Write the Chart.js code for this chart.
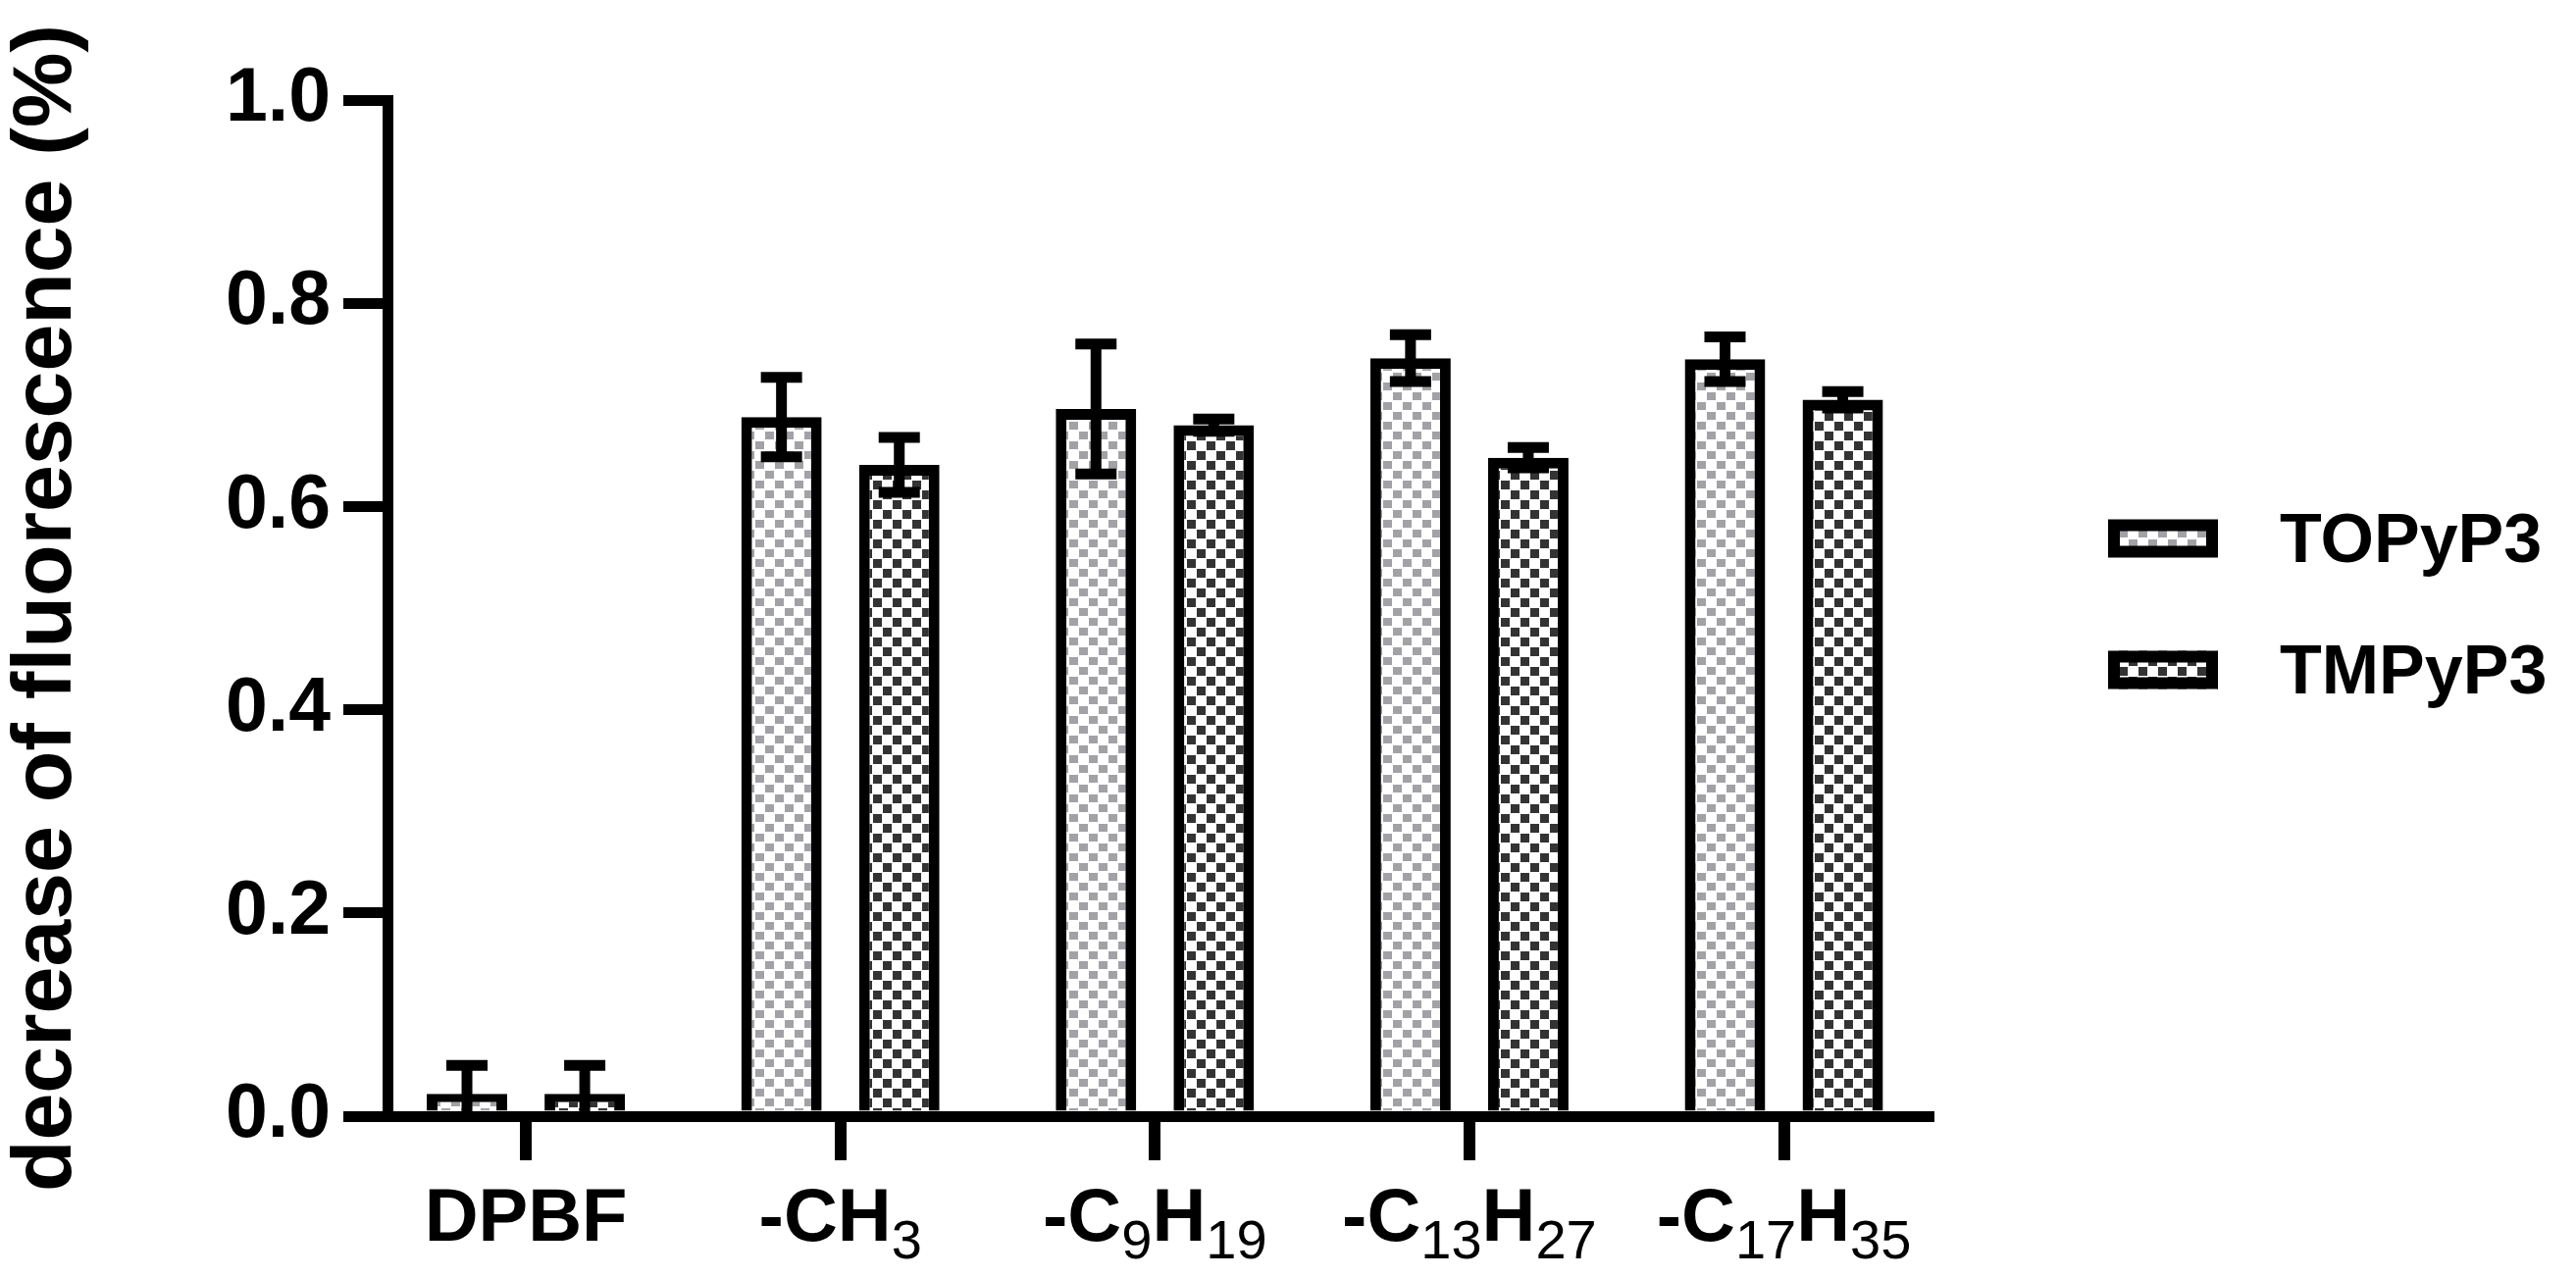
<!DOCTYPE html>
<html>
<head>
<meta charset="utf-8">
<script src="https://cdn.jsdelivr.net/npm/chart.js@4.4.1/dist/chart.umd.min.js"></script>
<style>
  html, body { margin: 0; padding: 0; background: #fff; }
</style>
</head>
<body>
<canvas id="chart" width="2626" height="1302"></canvas>
<script>
/* globals Chart */
const categories = ['DPBF', '-CH3', '-C9H19', '-C13H27', '-C17H35'];
const seriesNames = ['TOPyP3', 'TMPyP3'];
const topypMean = [0.022, 0.688, 0.696, 0.746, 0.745];
const topypSd = [0.028, 0.039, 0.064, 0.023, 0.022];
const tmpypMean = [0.022, 0.641, 0.680, 0.648, 0.705];
const tmpypSd = [0.028, 0.027, 0.006, 0.010, 0.008];
const yTicks = [0, 0.2, 0.4, 0.6, 0.8, 1.0];

const FONT = '"Liberation Sans", Arial, sans-serif';
const el = (id) => document.getElementById(id);

// checker tile like the GraphPad fills
function checker(color, sq, sqH) {
  const t = document.createElement('canvas');
  t.width = 20; t.height = 20;
  const c = t.getContext('2d');
  c.fillStyle = '#fff';
  c.fillRect(0, 0, 20, 20);
  c.fillStyle = color;
  c.fillRect(0, 0, sq, sqH);
  c.fillRect(10, 10, sq, sqH);
  return el('chart').getContext('2d').createPattern(t, 'repeat');
}

const lightFill = checker('#a2a2a6', 9, 8);
const darkFill = checker('#333333', 9, 9);

// error bars (mean ± sd), drawn over the bars
const errorBars = {
  id: 'errorBars',
  afterDatasetsDraw(chart) {
    const { ctx, chartArea, scales: { y } } = chart;
    ctx.save();
    ctx.beginPath();
    ctx.rect(chartArea.left, chartArea.top - 30, chartArea.width, chartArea.height + 30);
    ctx.clip();
    ctx.strokeStyle = '#000';
    ctx.lineWidth = 11;
    chart.data.datasets.forEach((ds, di) => {
      chart.getDatasetMeta(di).data.forEach((bar, i) => {
        const m = ds.data[i].y, s = ds.sd[i];
        const yt = y.getPixelForValue(m + s);
        const yb = y.getPixelForValue(m - s);
        ctx.beginPath();
        ctx.moveTo(bar.x, yt); ctx.lineTo(bar.x, yb);
        ctx.moveTo(bar.x - 21, yt); ctx.lineTo(bar.x + 21, yt);
        ctx.moveTo(bar.x - 21, yb); ctx.lineTo(bar.x + 21, yb);
        ctx.stroke();
      });
    });
    ctx.restore();
  }
};

// category labels with subscript digits
const formulaLabels = {
  id: 'formulaLabels',
  afterDraw(chart) {
    const { ctx, chartArea, scales: { x } } = chart;
    const base = chartArea.bottom + 127;
    const fontFor = (p) => p.sub ? `56px ${FONT}` : `bold 76px ${FONT}`;
    ctx.save();
    ctx.fillStyle = '#000';
    ctx.textAlign = 'left';
    ctx.textBaseline = 'alphabetic';
    categories.forEach((lab, i) => {
      const parts = lab.match(/[^0-9]+|[0-9]+/g).map(t => ({ t, sub: /^[0-9]/.test(t) }));
      let w = 0;
      parts.forEach(p => { ctx.font = fontFor(p); p.w = ctx.measureText(p.t).width; w += p.w; });
      let cx = x.getPixelForValue(i) - w / 2;
      parts.forEach(p => {
        ctx.font = fontFor(p);
        ctx.fillText(p.t, cx, base + (p.sub ? 18 : 0));
        cx += p.w;
      });
    });
    ctx.restore();
  }
};

// legend on the right, boxes with pattern + thick border
const sideLegend = {
  id: 'sideLegend',
  afterDraw(chart) {
    const { ctx, chartArea } = chart;
    const bx = chartArea.right + 183, bw = 112, bh = 39;
    ctx.save();
    chart.data.datasets.forEach((ds, i) => {
      const cy = 549 + i * 134;
      ctx.fillStyle = ds.backgroundColor;
      ctx.fillRect(bx, cy - bh / 2, bw, bh);
      ctx.lineWidth = 12;
      ctx.strokeStyle = '#000';
      ctx.strokeRect(bx + 6, cy - bh / 2 + 6, bw - 12, bh - 12);
      ctx.font = `bold 70px ${FONT}`;
      ctx.fillStyle = '#000';
      ctx.textAlign = 'left';
      ctx.textBaseline = 'alphabetic';
      ctx.fillText(ds.label, bx + 175, cy + 24);
    });
    ctx.restore();
  }
};

const toPoints = (vals) => vals.map((v, i) => ({ x: i, y: v }));

new Chart(el('chart'), {
  type: 'bar',
  data: {
    datasets: [
      { label: seriesNames[0], data: toPoints(topypMean), sd: topypSd, backgroundColor: lightFill },
      { label: seriesNames[1], data: toPoints(tmpypMean), sd: tmpypSd, backgroundColor: darkFill }
    ]
  },
  options: {
    responsive: false,
    devicePixelRatio: 1,
    animation: false,
    datasets: {
      bar: {
        borderColor: '#000',
        borderWidth: 11,
        categoryPercentage: 0.749,
        barPercentage: 0.683
      }
    },
    layout: { padding: { top: 102, right: 660, left: 0, bottom: 0 } },
    plugins: { legend: { display: false }, tooltip: { enabled: false } },
    scales: {
      x: {
        type: 'linear',
        offset: false,
        min: -0.44,
        max: 4.46,
        afterBuildTicks: (s) => { s.ticks = categories.map((_, i) => ({ value: i })); },
        afterFit: (s) => { s.height = 164; },
        ticks: { callback: () => '' },
        grid: { offset: false, drawOnChartArea: false, tickLength: 45, lineWidth: 12, tickWidth: 12, tickColor: '#000' },
        border: { color: '#000', width: 11, z: 1 }
      },
      y: {
        min: 0,
        max: 1,
        afterBuildTicks: (s) => { s.ticks = yTicks.map(v => ({ value: v })); },
        afterFit: (s) => { s.width = 395; },
        ticks: {
          color: '#000',
          padding: 13,
          font: { family: FONT, weight: 'bold', size: 77 },
          callback: (v) => Number(v).toFixed(1)
        },
        grid: { drawOnChartArea: false, tickLength: 45, lineWidth: 11, tickWidth: 11, tickColor: '#000' },
        border: { color: '#000', width: 11, z: 1 },
        title: {
          display: true,
          text: 'decrease of fluorescence (%)',
          color: '#000',
          padding: 0,
          font: { family: FONT, weight: 'bold', size: 86, lineHeight: 1.12 }
        }
      }
    }
  },
  plugins: [errorBars, formulaLabels, sideLegend]
});
</script>
</body>
</html>
